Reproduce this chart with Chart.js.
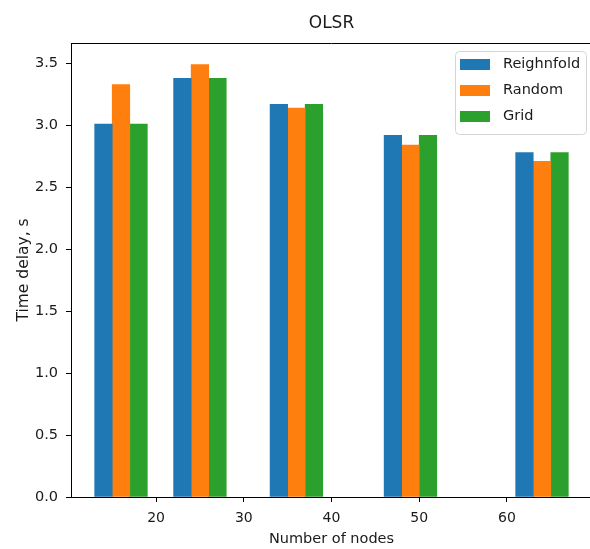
<!DOCTYPE html>
<html lang="en">
<head>
<meta charset="utf-8">
<script src="https://cdn.jsdelivr.net/npm/chart.js@4.4.1/dist/chart.umd.min.js"></script>
<style>
  html, body { margin: 0; padding: 0; background: #fff; overflow: hidden; }
  #wrap { width: 600px; height: 549px; }
</style>
</head>
<body>
<div id="wrap"><canvas id="chart" width="600" height="549"></canvas></div>

<script>
"use strict";

// number of nodes per scenario and the measured delays
var nodes = [16, 25, 36, 49, 64];
var reighnfold = [3.01, 3.38, 3.17, 2.92, 2.78];
var random = [3.33, 3.49, 3.14, 2.84, 2.71];
var grid = [3.01, 3.38, 3.17, 2.92, 2.78];

var xTicks = [20, 30, 40, 50, 60];
var yTicks = [0, 0.5, 1.0, 1.5, 2.0, 2.5, 3.0, 3.5];

var seriesNames = ['Reighnfold', 'Random', 'Grid'];
var seriesColors = ['#1f77b4', '#ff7f0e', '#2ca02c'];

var barWidth = 2; // in x units, bars sit side by side

function toPoints(values, shift) {
  return nodes.map(function(n, i) { return {x: n + shift, y: values[i]}; });
}

Chart.defaults.font.family = "'DejaVu Sans', sans-serif";
Chart.defaults.font.size = 14;
Chart.defaults.color = '#1a1a1a';

// top spine + title above the axes
var frame = {
  id: 'frame',
  afterDraw: function(chart) {
    var ctx = chart.ctx, a = chart.chartArea;
    ctx.save();
    ctx.strokeStyle = '#000';
    ctx.lineWidth = 1;
    ctx.beginPath();
    ctx.moveTo(a.left, a.top + 0.5);
    ctx.lineTo(a.right, a.top + 0.5);
    ctx.stroke();

    ctx.fillStyle = '#1a1a1a';
    ctx.font = "17px 'DejaVu Sans', sans-serif";
    ctx.textAlign = 'center';
    ctx.textBaseline = 'middle';
    ctx.fillText('OLSR', (a.left + a.right) / 2, 24);
    ctx.restore();
  }
};

// matplotlib style legend in upper right corner of axes
var boxLegend = {
  id: 'boxLegend',
  afterDraw: function(chart) {
    var ctx = chart.ctx, a = chart.chartArea;
    var w = 131, h = 83;
    var x0 = a.right - 6 - w, y0 = a.top + 8;
    ctx.save();
    ctx.beginPath();
    ctx.roundRect(x0 + 0.5, y0 + 0.5, w, h, 4);
    ctx.fillStyle = 'rgba(255,255,255,0.8)';
    ctx.fill();
    ctx.strokeStyle = '#d5d5d5';
    ctx.lineWidth = 1;
    ctx.stroke();
    ctx.font = "14.5px 'DejaVu Sans', sans-serif";
    ctx.textBaseline = 'middle';
    ctx.textAlign = 'left';
    chart.data.datasets.forEach(function(ds, i) {
      var cy = y0 + 13.5 + i * 26;
      ctx.fillStyle = ds.backgroundColor;
      ctx.fillRect(x0 + 5, cy - 5.5, 30, 11);
      ctx.fillStyle = '#1a1a1a';
      ctx.fillText(ds.label, x0 + 48, cy);
    });
    ctx.restore();
  }
};

var shifts = [-barWidth, 0, barWidth];
var allValues = [reighnfold, random, grid];

var datasets = seriesNames.map(function(name, i) {
  return {
    label: name,
    data: toPoints(allValues[i], shifts[i]),
    backgroundColor: seriesColors[i],
    borderWidth: 0,
    grouped: false,
    barPercentage: 1,
    categoryPercentage: 1
  };
});

var chart = new Chart(document.getElementById('chart'), {
  type: 'bar',
  data: { datasets: datasets },
  plugins: [frame, boxLegend],
  options: {
    responsive: false,
    animation: false,
    layout: { padding: { top: 43, right: 8, left: 0, bottom: 0 } },
    plugins: {
      legend: { display: false },
      tooltip: { enabled: false },
      title: { display: false }
    },
    scales: {
      x: {
        type: 'linear',
        offset: false,
        min: 10.3,
        max: 69.7,
        afterFit: function(s) { s.height = 52; },
        afterBuildTicks: function(s) { s.ticks = xTicks.map(function(v) { return {value: v}; }); },
        grid: { offset: false, drawOnChartArea: false, drawTicks: true, tickLength: 5, color: '#000' },
        border: { display: true, color: '#000', width: 1 },
        ticks: { padding: 8, callback: function(v) { return String(v); } },
        title: { display: true, text: 'Number of nodes', font: { size: 14.5 }, padding: { top: 0, bottom: 1 } }
      },
      y: {
        min: 0,
        max: 3.665,
        afterFit: function(s) { s.width = 71; },
        afterBuildTicks: function(s) { s.ticks = yTicks.map(function(v) { return {value: v}; }); },
        grid: { drawOnChartArea: false, drawTicks: true, tickLength: 5, color: '#000' },
        border: { display: true, color: '#000', width: 1 },
        ticks: { padding: 8, font: { size: 14.5 }, callback: function(v) { return v.toFixed(1); } },
        title: { display: true, text: 'Time delay, s', font: { size: 15.5 }, padding: { top: 15, bottom: 0 } }
      }
    }
  }
});
</script>
</body>
</html>
